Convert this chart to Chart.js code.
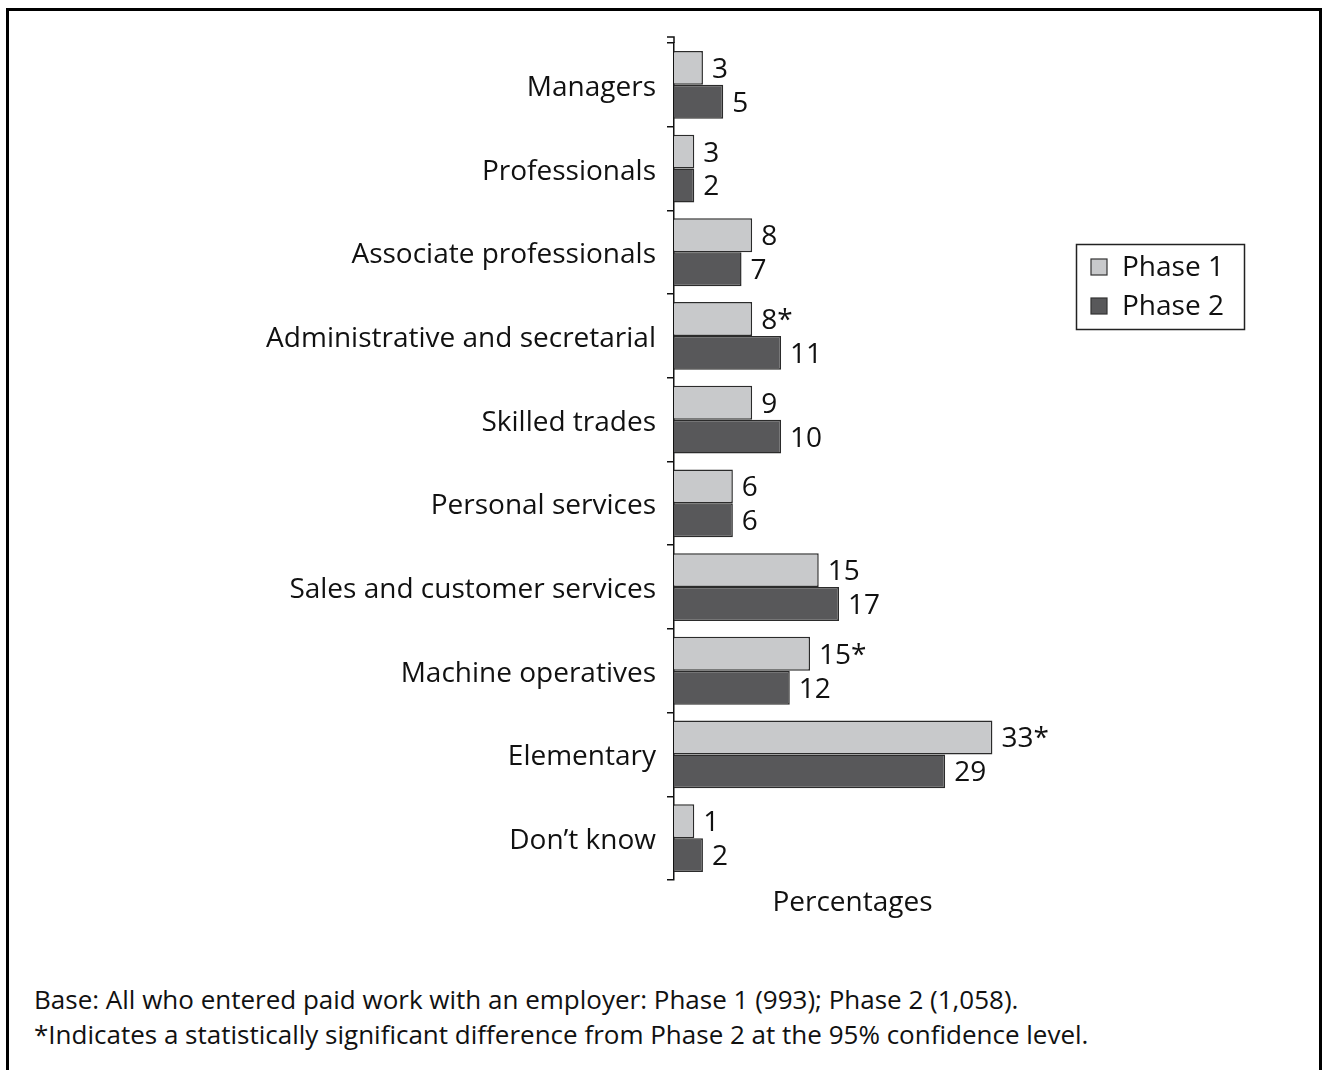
<!DOCTYPE html>
<html>
<head>
<meta charset="utf-8">
<script src="https://cdn.jsdelivr.net/npm/chart.js@4"></script>
<style>
  body { margin: 0; background: #fff; width: 1324px; height: 1070px; overflow: hidden; position: relative; font-family: 'Open Sans', sans-serif; }
  #frame { position: absolute; left: 6px; top: 8px; width: 1310px; height: 1070px; border: 3px solid #000; border-bottom: none; }
  #chart { position: absolute; left: 0; top: 0; }
  #notes { position: absolute; left: 34px; top: 982px; font-size: 26px; line-height: 35px; color: #111; white-space: nowrap; }
</style>
</head>
<body>
<div id="frame"></div>
<canvas id="chart" width="1324" height="930"></canvas>
<div id="notes">
  Base: All who entered paid work with an employer: Phase 1 (993); Phase 2 (1,058).<br>
  *Indicates a statistically significant difference from Phase 2 at the 95% confidence level.
</div>
<script>
const categories = [
  'Managers',
  'Professionals',
  'Associate professionals',
  'Administrative and secretarial',
  'Skilled trades',
  'Personal services',
  'Sales and customer services',
  'Machine operatives',
  'Elementary',
  'Don\u2019t know',
];

// bar lengths as drawn
const phase1 = [3, 2.1, 8.1, 8.1, 8.1, 6.1, 15, 14.1, 33, 2.1];
const phase2 = [5.1, 2.1, 7, 11.1, 11.1, 6.1, 17.1, 12, 28.1, 3];

// printed labels
const phase1Labels = ['3', '3', '8', '8*', '9', '6', '15', '15*', '33*', '1'];
const phase2Labels = ['5', '2', '7', '11', '10', '6', '17', '12', '29', '2'];

const FONT = "'Open Sans', sans-serif";

const barLabels = {
  id: 'barLabels',
  afterDatasetsDraw(chart) {
    const ctx = chart.ctx;
    ctx.save();
    ctx.font = '28px ' + FONT;
    ctx.fillStyle = '#111';
    ctx.textAlign = 'left';
    ctx.textBaseline = 'middle';
    chart.data.datasets.forEach((ds, i) => {
      chart.getDatasetMeta(i).data.forEach((bar, j) => {
        ctx.fillText(ds.valueLabels[j], bar.x + 9, bar.y + 2);
      });
    });
    ctx.restore();
  },
};

const boxLegend = {
  id: 'boxLegend',
  afterDraw(chart) {
    const ctx = chart.ctx;
    ctx.save();
    ctx.strokeStyle = '#222';
    ctx.lineWidth = 1.5;
    ctx.strokeRect(1076.5, 244.5, 168, 85);
    ctx.font = '28px ' + FONT;
    ctx.textBaseline = 'middle';
    chart.data.datasets.forEach((ds, i) => {
      const y = 267 + i * 39;
      ctx.fillStyle = ds.backgroundColor;
      ctx.fillRect(1091, y - 8, 16, 16);
      ctx.strokeStyle = '#333';
      ctx.lineWidth = 1.2;
      ctx.strokeRect(1091, y - 8, 16, 16);
      ctx.fillStyle = '#111';
      ctx.fillText(ds.label, 1122, y + 1);
    });
    ctx.restore();
  },
};

// small cap at the top end of the category axis
const axisCap = {
  id: 'axisCap',
  afterDraw(chart) {
    const { ctx, chartArea } = chart;
    ctx.save();
    ctx.strokeStyle = '#111';
    ctx.lineWidth = 1.5;
    ctx.beginPath();
    ctx.moveTo(chartArea.left, chartArea.top);
    ctx.lineTo(chartArea.left, chartArea.top - 6);
    ctx.lineTo(chartArea.left - 7, chartArea.top - 6);
    ctx.stroke();
    ctx.restore();
  },
};

new Chart(document.getElementById('chart'), {
  type: 'bar',
  data: {
    labels: categories,
    datasets: [
      {
        label: 'Phase 1',
        data: phase1,
        valueLabels: phase1Labels,
        backgroundColor: '#c8c9cb',
        borderColor: '#2b2b2b',
        borderWidth: 1.5,
        categoryPercentage: 0.81,
        barPercentage: 1,
      },
      {
        label: 'Phase 2',
        data: phase2,
        valueLabels: phase2Labels,
        backgroundColor: '#58585a',
        borderColor: '#2b2b2b',
        borderWidth: 1.5,
        categoryPercentage: 0.81,
        barPercentage: 1,
      },
    ],
  },
  options: {
    indexAxis: 'y',
    responsive: false,
    animation: false,
    layout: { padding: { top: 43, right: 293, bottom: 0, left: 0 } },
    plugins: {
      legend: { display: false },
      tooltip: { enabled: false },
    },
    scales: {
      x: {
        min: 0,
        max: 37,
        grid: { display: false },
        border: { display: false },
        ticks: { display: false },
        title: {
          display: true,
          text: 'Percentages',
          color: '#111',
          font: { family: FONT, size: 28 },
          padding: { top: 0, bottom: 10 },
        },
        afterFit: (s) => { s.height = 50; },
      },
      y: {
        grid: {
          drawOnChartArea: false,
          drawTicks: true,
          tickLength: 7,
          color: '#111',
          lineWidth: 1.5,
          offset: true,
        },
        border: { display: true, color: '#111', width: 1.5 },
        ticks: {
          color: '#111',
          padding: 11,
          labelOffset: 3,
          font: { family: FONT, size: 28 },
        },
        afterFit: (s) => { s.width = 674; },
      },
    },
  },
  plugins: [barLabels, boxLegend, axisCap],
});
</script>
</body>
</html>
